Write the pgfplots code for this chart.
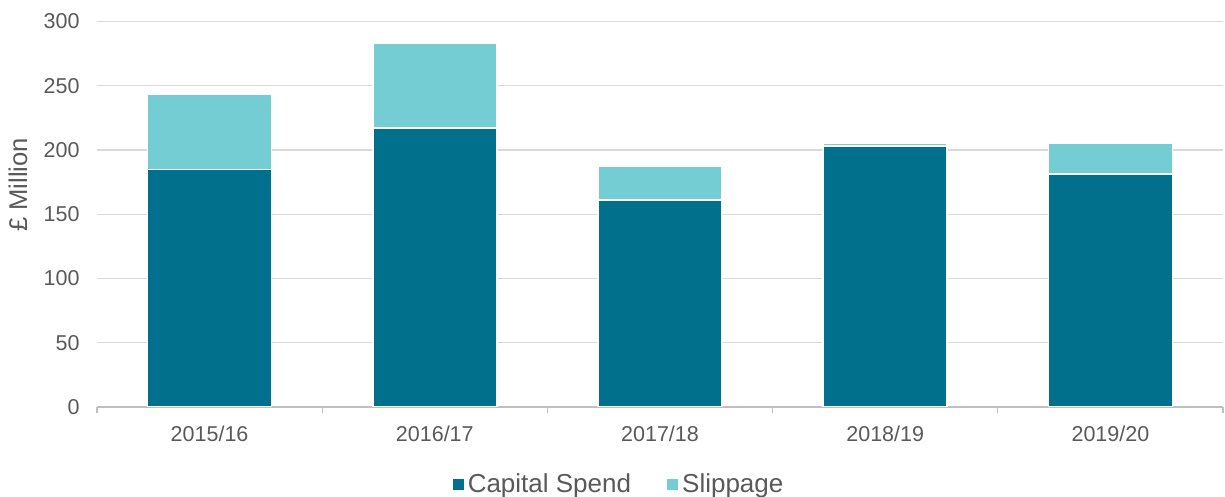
\documentclass[border=0pt]{standalone}
\usepackage{fontspec}
\setmainfont{Liberation Sans}
\usepackage{pgfplots}
\pgfplotsset{compat=1.18}
\definecolor{capcol}{RGB}{0,112,140}
\definecolor{slipcol}{RGB}{117,205,212}
\definecolor{txtcol}{RGB}{89,89,89}
\definecolor{grdcol}{RGB}{217,217,217}
\definecolor{axlcol}{RGB}{191,191,191}
\begin{document}
\begin{tikzpicture}
\path[use as bounding box] (0,0) rectangle (612.5pt,248.5pt);
\begin{axis}[
  at={(48.5pt,45pt)}, anchor=south west,
  scale only axis, width=563pt, height=192.75pt,
  ybar stacked, bar width=62pt,
  xmin=-0.5, xmax=4.5, ymin=0, ymax=300,
  ytick={0,50,...,300},
  xtick={0,1,2,3,4},
  xticklabels={2015/16,2016/17,2017/18,2018/19,2019/20},
  minor xtick={-0.5,0.5,...,4.5},
  major tick length=0pt,
  minor tick length=3pt,
  tick align=outside,
  minor x tick style={axlcol, line width=0.6pt},
  axis x line*=bottom,
  axis y line*=left,
  x axis line style={axlcol, line width=0.6pt, -},
  y axis line style={draw=none},
  ymajorgrids, grid style={grdcol, line width=0.6pt},
  /pgf/number format/assume math mode=true,
  tick label style={font=\fontsize{10.75}{12}\selectfont, text=txtcol},
  yticklabel style={inner sep=0pt, anchor=east, xshift=-8.5pt},
  xticklabel style={inner sep=0pt, anchor=north, yshift=-9.5pt},
  ylabel={£ Million},
  ylabel style={at={(axis description cs:-0.0702,0.576)}, anchor=center, font=\fontsize{12.8}{15}\selectfont, text=txtcol},
  legend style={at={(0.4645,-0.2)}, anchor=center, draw=none, fill=none,
    legend columns=2, font=\fontsize{13}{15}\selectfont, text=txtcol,
    /tikz/every even column/.append style={column sep=16pt},
    /tikz/every odd column/.append style={column sep=0pt}},
]
\addplot[fill=capcol, draw=white, line width=0.75pt,
  legend image code/.code={\fill[capcol] (0pt,-2.4pt) rectangle (4.8pt,2.4pt);}]
  coordinates {(0,185) (1,217) (2,161) (3,203) (4,181.5)};
\addplot[fill=slipcol, draw=white, line width=0.75pt,
  legend image code/.code={\fill[slipcol] (0pt,-2.4pt) rectangle (4.8pt,2.4pt);}]
  coordinates {(0,58) (1,66) (2,26) (3,2) (4,24)};
\legend{Capital Spend, Slippage}
\end{axis}
\end{tikzpicture}
\end{document}
